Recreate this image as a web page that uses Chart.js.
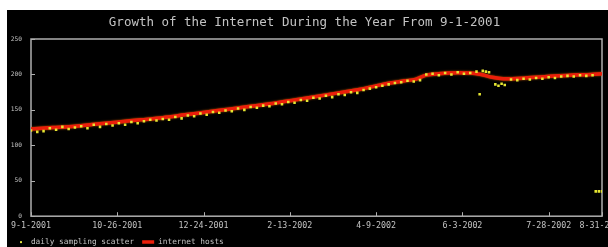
<!DOCTYPE html>
<html>
<head>
<meta charset="utf-8">
<script src="https://cdn.jsdelivr.net/npm/chart.js@4.4.1/dist/chart.umd.min.js"></script>
<style>
  html, body { margin: 0; padding: 0; background: #fff; overflow: hidden; }
  #wrap { position: absolute; left: 7px; top: 10px; width: 601px; height: 237px; background: #000; overflow: hidden; }
  #chart { display: block; }
</style>
</head>
<body>
<div id="wrap"><canvas id="chart" width="601" height="246"></canvas></div>
<script>
// days counted from 9-1-2001
const tickDays = [0, 55, 110, 165, 220, 275, 330, 364];
const tickLabels = ['9-1-2001', '10-26-2001', '12-24-2001', '2-13-2002', '4-9-2002', '6-3-2002', '7-28-2002', '8-31-2002'];

// internet hosts (millions)
const lineDays = [0, 14, 28, 42, 56, 70, 84, 98, 112, 126, 140, 154, 168, 182, 196, 210, 224, 238, 245, 252, 266, 280, 287, 294, 301, 315, 329, 343, 357, 364];
const lineHosts = [123, 125, 127, 130, 133, 136, 139, 143, 147, 151, 155, 159, 164, 169, 174, 179, 186, 191, 193, 199, 202, 202, 200, 196, 194, 195, 197, 199, 200, 201];

// daily sampling scatter (yellow dots)
const sampleDays = [0, 4, 8, 12, 16, 20, 24, 28, 32, 36, 40, 44, 48, 52, 56, 60, 64, 68, 72, 76, 80, 84, 88, 92, 96, 100,
  104, 108, 112, 116, 120, 124, 128, 132, 136, 140, 144, 148, 152, 156, 160, 164, 168, 172, 176, 180, 184, 188, 192, 196,
  200, 204, 208, 212, 216, 220, 224, 228, 232, 236, 240, 244, 248, 252, 256, 260, 264, 268, 272, 276, 280, 284, 286, 288,
  290, 292, 296, 298, 300, 302, 306, 310, 314, 318, 322, 326, 330, 334, 338, 342, 346, 350, 354, 358, 360, 362, 364];
const sampleHosts = [121, 119, 120, 124, 122, 126, 123, 125, 127, 124, 129, 126, 130, 128, 131, 129, 133, 131, 134, 136,
  135, 137, 136, 140, 138, 142, 141, 145, 143, 147, 146, 149, 148, 152, 150, 154, 153, 156, 155, 159, 158, 161, 160, 164,
  163, 167, 166, 170, 168, 172, 171, 175, 174, 178, 180, 182, 184, 186, 188, 189, 191, 190, 192, 200, 201, 199, 202, 200,
  203, 201, 202, 204, 172, 205, 204, 203, 186, 184, 187, 185, 193, 192, 194, 193, 195, 194, 196, 195, 197, 198, 197, 199,
  198, 199, 35, 35, 35];

const axisGray = 'rgb(175,175,175)';
const textGray = 'rgb(195,195,195)';
const mono = "'DejaVu Sans Mono', monospace";

// little yellow dot used as the scatter's legend marker
const dotMarker = document.createElement('canvas');
dotMarker.width = 12;
dotMarker.height = 6;
(function() {
  const c = dotMarker.getContext('2d');
  c.fillStyle = 'rgb(225,225,60)';
  c.fillRect(5, 2, 2, 2);
})();

const frame = {
  id: 'frame',
  beforeDatasetsDraw(chart) {
    const {ctx, chartArea: a, scales} = chart;
    ctx.save();
    ctx.strokeStyle = axisGray;
    ctx.lineWidth = 1.5;
    ctx.strokeRect(a.left, a.top, a.right - a.left, a.bottom - a.top);
    ctx.lineWidth = 1;
    ctx.beginPath();
    scales.y.ticks.forEach(t => {
      const y = Math.round(scales.y.getPixelForValue(t.value)) + 0.5;
      ctx.moveTo(a.left, y);
      ctx.lineTo(a.left + 4, y);
    });
    scales.x.ticks.forEach(t => {
      const x = Math.round(scales.x.getPixelForValue(t.value)) + 0.5;
      ctx.moveTo(x, a.bottom);
      ctx.lineTo(x, a.bottom - 4);
    });
    ctx.stroke();
    ctx.restore();
  },
  beforeDatasetDraw(chart, args) {
    if (args.index !== 1) return;
    chart.ctx.save();
    chart.ctx.shadowColor = 'rgba(255,110,0,0.8)';
    chart.ctx.shadowBlur = 2;
  },
  afterDatasetDraw(chart, args) {
    if (args.index !== 1) return;
    chart.ctx.restore();
  }
};

new Chart(document.getElementById('chart'), {
  type: 'scatter',
  data: {
    datasets: [{
      label: 'daily sampling scatter',
      data: sampleDays.map((d, i) => ({x: d, y: sampleHosts[i]})),
      backgroundColor: 'rgb(230,230,50)',
      borderColor: 'rgb(230,230,50)',
      pointStyle: 'rect',
      pointRadius: 1.8,
      borderWidth: 0,
      order: 0
    }, {
      type: 'line',
      label: 'internet hosts',
      data: lineDays.map((d, i) => ({x: d, y: lineHosts[i]})),
      borderColor: 'rgb(235,30,10)',
      backgroundColor: 'rgb(235,30,10)',
      borderWidth: 3.5,
      pointRadius: 0,
      pointStyle: 'line',
      tension: 0.3,
      order: 1
    }]
  },
  options: {
    responsive: false,
    animation: false,
    layout: { padding: { left: 0, right: 6, top: 0, bottom: 0 } },
    plugins: {
      title: {
        display: true,
        text: 'Growth of the Internet During the Year From 9-1-2001',
        color: textGray,
        font: { family: mono, size: 12.5, weight: 'normal' },
        padding: { top: 5.5, bottom: 8.5 }
      },
      legend: {
        position: 'bottom',
        align: 'start',
        labels: {
          color: textGray,
          font: { family: mono, size: 7.8 },
          usePointStyle: true,
          pointStyleWidth: 12,
          boxHeight: 6,
          padding: 8,
          generateLabels(chart) {
            const items = Chart.defaults.plugins.legend.labels.generateLabels(chart);
            items[0].pointStyle = dotMarker;
            return items;
          }
        }
      },
      tooltip: { enabled: false }
    },
    scales: {
      x: {
        type: 'linear',
        min: 0,
        max: 364,
        grid: { display: false, drawTicks: false },
        border: { display: false },
        afterBuildTicks: scale => { scale.ticks = tickDays.map(v => ({value: v})); },
        afterFit: scale => { scale.height = 14; scale.paddingLeft = 0; scale.paddingRight = 0; },
        ticks: {
          autoSkip: false,
          maxRotation: 0,
          padding: 5,
          color: textGray,
          font: { family: mono, size: 8.3 },
          callback: value => tickLabels[tickDays.indexOf(value)]
        }
      },
      y: {
        min: 0,
        max: 250,
        grid: { display: false, drawTicks: false },
        border: { display: false },
        afterFit: scale => { scale.width = 24; scale.paddingTop = 0; scale.paddingBottom = 0; },
        ticks: {
          stepSize: 50,
          padding: 9,
          color: textGray,
          font: { family: mono, size: 6.2 }
        }
      }
    }
  },
  plugins: [frame]
});
</script>
</body>
</html>
